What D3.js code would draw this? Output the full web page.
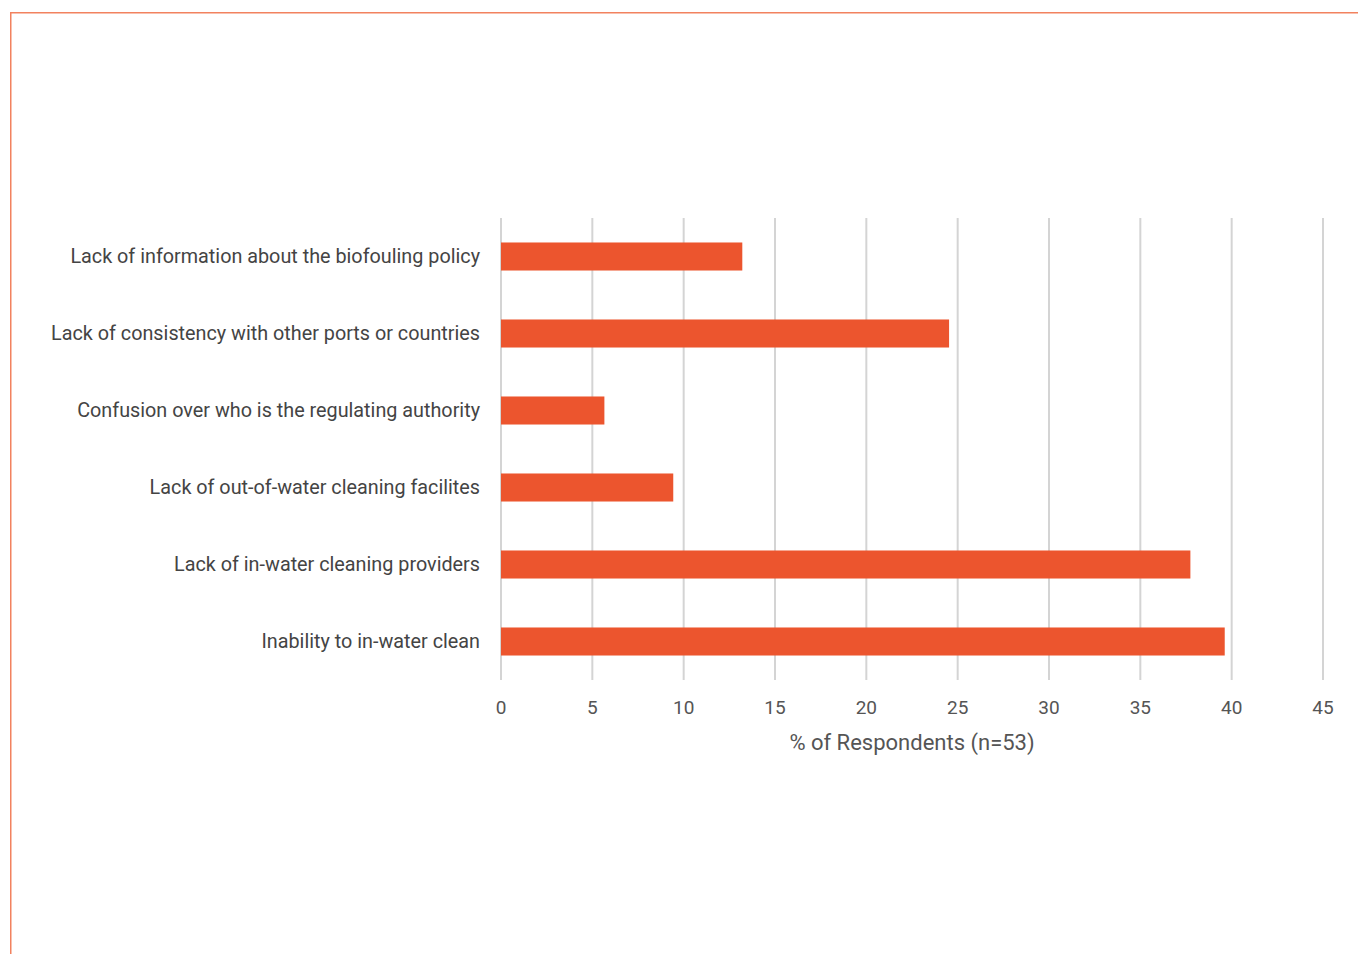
<!DOCTYPE html>
<html><head><meta charset="utf-8">
<script src="https://cdn.jsdelivr.net/npm/d3@7"></script>
<style>html,body{margin:0;padding:0;background:#fff;}svg{display:block;}</style>
</head><body>
<script>
const categories = [
  "Lack of information about the biofouling policy",
  "Lack of consistency with other ports or countries",
  "Confusion over who is the regulating authority",
  "Lack of out-of-water cleaning facilites",
  "Lack of in-water cleaning providers",
  "Inability to in-water clean"
];
const values = [13.21, 24.53, 5.66, 9.43, 37.74, 39.62];
const xTicks = [0, 5, 10, 15, 20, 25, 30, 35, 40, 45];
const xTitle = "% of Respondents (n=53)";

const W = 1358, H = 954;
const svg = d3.select("body").append("svg").attr("width", W).attr("height", H);
const font = "Roboto, 'DejaVu Sans', sans-serif";

// frame
svg.append("path").attr("d", `M10.75,${H} V12.75 H${W}`).attr("fill","none").attr("stroke","#f2825f").attr("stroke-width",1.5);

const x = d3.scaleLinear().domain([0,45]).range([501,1323]);
const y = d3.scaleBand().domain(categories).range([218,680]).paddingInner(0.636).paddingOuter(0.318);

svg.append("g").selectAll("line").data(xTicks).join("line")
  .attr("x1", d=>x(d)).attr("x2", d=>x(d)).attr("y1",218).attr("y2",680)
  .attr("stroke","#d4d4d4").attr("stroke-width",2);

svg.append("g").selectAll("rect").data(values).join("rect")
  .attr("x", x(0)).attr("y", (d,i)=>y(categories[i]))
  .attr("width", d=>x(d)-x(0)).attr("height", y.bandwidth())
  .attr("fill","#ec552e");

svg.append("g").selectAll("text").data(xTicks).join("text")
  .attr("x", d=>x(d)).attr("y", 714).attr("text-anchor","middle")
  .attr("font-family",font).attr("font-size",19).attr("fill","#555")
  .text(d=>d);

svg.append("g").selectAll("text").data(categories).join("text")
  .attr("x", 480).attr("y", d=>y(d)+y.bandwidth()/2+6).attr("text-anchor","end")
  .attr("font-family",font).attr("font-size",19.8).attr("fill","#444")
  .text(d=>d);

svg.append("text").attr("x", x(22.5)).attr("y", 750).attr("text-anchor","middle")
  .attr("font-family",font).attr("font-size",22).attr("fill","#555").text(xTitle);
</script>
</body></html>
